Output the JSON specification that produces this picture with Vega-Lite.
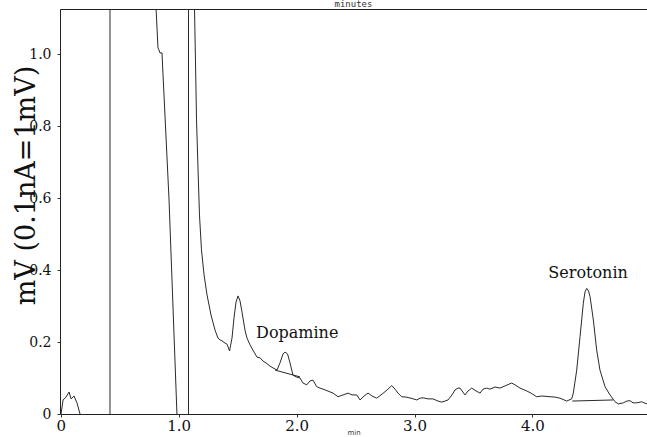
{
"$schema":"https://vega.github.io/schema/vega-lite/v6.json",
"width":587,"height":405,
"autosize":"none",
"padding":{"left":60,"top":9,"right":0,"bottom":23},
"background":"white",
"config":{"view":{"stroke":"#222","strokeWidth":1},"font":"DejaVu Serif"},
"title":{"text":"minutes","font":"DejaVu Sans Mono","fontSize":9,"fontWeight":"normal","color":"#333","offset":0},
"datasets":{
"trace":[
{"seg":"a","t":0.002,"v":0},{"seg":"a","t":0.019,"v":0.039},{"seg":"a","t":0.044,"v":0.047},{"seg":"a","t":0.070,"v":0.061},{"seg":"a","t":0.087,"v":0.042},{"seg":"a","t":0.112,"v":0.050},{"seg":"a","t":0.137,"v":0.031},{"seg":"a","t":0.163,"v":0},
{"seg":"b","t":0.417,"v":0},{"seg":"b","t":0.417,"v":1.125},
{"seg":"c","t":0.808,"v":1.125},{"seg":"c","t":0.824,"v":1.017},{"seg":"c","t":0.833,"v":1.011},{"seg":"c","t":0.841,"v":1.003},{"seg":"c","t":0.858,"v":1.003},{"seg":"c","t":0.918,"v":0.594},{"seg":"c","t":0.985,"v":0},
{"seg":"d","t":1.083,"v":0},{"seg":"d","t":1.083,"v":1.125},
{"seg":"e","t":1.134,"v":1.125},{"seg":"e","t":1.142,"v":0.983},{"seg":"e","t":1.151,"v":0.817},{"seg":"e","t":1.164,"v":0.678},{"seg":"e","t":1.176,"v":0.553},{"seg":"e","t":1.193,"v":0.456},{"seg":"e","t":1.215,"v":0.386},{"seg":"e","t":1.240,"v":0.331},{"seg":"e","t":1.274,"v":0.275},{"seg":"e","t":1.308,"v":0.233},{"seg":"e","t":1.333,"v":0.211},{"seg":"e","t":1.350,"v":0.206},{"seg":"e","t":1.367,"v":0.203},{"seg":"e","t":1.393,"v":0.197},{"seg":"e","t":1.410,"v":0.194},{"seg":"e","t":1.431,"v":0.175},{"seg":"e","t":1.452,"v":0.211},{"seg":"e","t":1.469,"v":0.267},{"seg":"e","t":1.486,"v":0.311},{"seg":"e","t":1.503,"v":0.328},{"seg":"e","t":1.520,"v":0.314},{"seg":"e","t":1.537,"v":0.283},{"seg":"e","t":1.562,"v":0.233},{"seg":"e","t":1.579,"v":0.211},{"seg":"e","t":1.605,"v":0.192},{"seg":"e","t":1.639,"v":0.172},{"seg":"e","t":1.664,"v":0.158},{"seg":"e","t":1.690,"v":0.156},{"seg":"e","t":1.715,"v":0.147},{"seg":"e","t":1.740,"v":0.142},{"seg":"e","t":1.774,"v":0.133},{"seg":"e","t":1.800,"v":0.128},{"seg":"e","t":1.834,"v":0.122},{"seg":"e","t":1.859,"v":0.142},{"seg":"e","t":1.885,"v":0.167},{"seg":"e","t":1.902,"v":0.172},{"seg":"e","t":1.923,"v":0.167},{"seg":"e","t":1.944,"v":0.142},{"seg":"e","t":1.969,"v":0.108},{"seg":"e","t":1.995,"v":0.103},{"seg":"e","t":2.029,"v":0.100},{"seg":"e","t":2.054,"v":0.086},{"seg":"e","t":2.086,"v":0.081},{"seg":"e","t":2.114,"v":0.092},{"seg":"e","t":2.139,"v":0.094},{"seg":"e","t":2.170,"v":0.076},{"seg":"e","t":2.198,"v":0.072},{"seg":"e","t":2.241,"v":0.067},{"seg":"e","t":2.309,"v":0.058},{"seg":"e","t":2.351,"v":0.048},{"seg":"e","t":2.394,"v":0.053},{"seg":"e","t":2.436,"v":0.058},{"seg":"e","t":2.470,"v":0.053},{"seg":"e","t":2.510,"v":0.053},{"seg":"e","t":2.538,"v":0.039},{"seg":"e","t":2.572,"v":0.050},{"seg":"e","t":2.606,"v":0.058},{"seg":"e","t":2.640,"v":0.050},{"seg":"e","t":2.679,"v":0.044},{"seg":"e","t":2.716,"v":0.053},{"seg":"e","t":2.750,"v":0.062},{"seg":"e","t":2.775,"v":0.069},{"seg":"e","t":2.807,"v":0.079},{"seg":"e","t":2.835,"v":0.069},{"seg":"e","t":2.860,"v":0.058},{"seg":"e","t":2.891,"v":0.048},{"seg":"e","t":2.928,"v":0.047},{"seg":"e","t":2.970,"v":0.044},{"seg":"e","t":3.019,"v":0.039},{"seg":"e","t":3.047,"v":0.044},{"seg":"e","t":3.072,"v":0.045},{"seg":"e","t":3.115,"v":0.042},{"seg":"e","t":3.157,"v":0.042},{"seg":"e","t":3.199,"v":0.036},{"seg":"e","t":3.231,"v":0.033},{"seg":"e","t":3.259,"v":0.036},{"seg":"e","t":3.284,"v":0.039},{"seg":"e","t":3.318,"v":0.053},{"seg":"e","t":3.344,"v":0.067},{"seg":"e","t":3.369,"v":0.072},{"seg":"e","t":3.386,"v":0.072},{"seg":"e","t":3.428,"v":0.053},{"seg":"e","t":3.454,"v":0.064},{"seg":"e","t":3.485,"v":0.072},{"seg":"e","t":3.522,"v":0.064},{"seg":"e","t":3.556,"v":0.058},{"seg":"e","t":3.581,"v":0.069},{"seg":"e","t":3.612,"v":0.072},{"seg":"e","t":3.640,"v":0.069},{"seg":"e","t":3.683,"v":0.075},{"seg":"e","t":3.725,"v":0.072},{"seg":"e","t":3.768,"v":0.078},{"seg":"e","t":3.802,"v":0.083},{"seg":"e","t":3.824,"v":0.086},{"seg":"e","t":3.852,"v":0.081},{"seg":"e","t":3.895,"v":0.072},{"seg":"e","t":3.952,"v":0.064},{"seg":"e","t":3.988,"v":0.058},{"seg":"e","t":4.036,"v":0.048},{"seg":"e","t":4.081,"v":0.050},{"seg":"e","t":4.149,"v":0.048},{"seg":"e","t":4.192,"v":0.047},{"seg":"e","t":4.234,"v":0.044},{"seg":"e","t":4.291,"v":0.036},{"seg":"e","t":4.333,"v":0.042},{"seg":"e","t":4.347,"v":0.058},{"seg":"e","t":4.376,"v":0.122},{"seg":"e","t":4.404,"v":0.215},{"seg":"e","t":4.432,"v":0.308},{"seg":"e","t":4.446,"v":0.339},{"seg":"e","t":4.461,"v":0.349},{"seg":"e","t":4.476,"v":0.342},{"seg":"e","t":4.489,"v":0.326},{"seg":"e","t":4.517,"v":0.261},{"seg":"e","t":4.545,"v":0.178},{"seg":"e","t":4.573,"v":0.122},{"seg":"e","t":4.616,"v":0.076},{"seg":"e","t":4.658,"v":0.053},{"seg":"e","t":4.701,"v":0.034},{"seg":"e","t":4.729,"v":0.028},{"seg":"e","t":4.771,"v":0.031},{"seg":"e","t":4.802,"v":0.036},{"seg":"e","t":4.828,"v":0.037},{"seg":"e","t":4.853,"v":0.031},{"seg":"e","t":4.885,"v":0.031},{"seg":"e","t":4.927,"v":0.034},{"seg":"e","t":4.947,"v":0.031},{"seg":"e","t":4.972,"v":0.028},
{"seg":"f","t":1.817,"v":0.122},{"seg":"f","t":2.029,"v":0.103},
{"seg":"g","t":4.338,"v":0.036},{"seg":"g","t":4.686,"v":0.039}
],
"labels":[{"name":"Dopamine","t":2.005,"v":0.211},{"name":"Serotonin","t":4.472,"v":0.378}]
},
"layer":[
{"data":{"name":"trace"},
 "mark":{"type":"line","color":"#2a2a2a","strokeWidth":1,"clip":true},
 "encoding":{
  "x":{"field":"t","type":"quantitative","scale":{"domain":[-0.007,4.972],"nice":false,"zero":false},
   "axis":{"values":[0,1,2,3,4],"labelExpr":"datum.value==0?'0':format(datum.value,'.1f')","labelFlush":false,"labelFont":"DejaVu Serif","labelFontSize":15,"labelColor":"#111","tickSize":3,"tickColor":"#333","labelPadding":1,"domain":false,"grid":false,"title":"min","titleFont":"DejaVu Sans","titleFontSize":7,"titleFontWeight":"normal","titleBaseline":"alphabetic","titleY":20,"titleColor":"#333"}},
  "y":{"field":"v","type":"quantitative","scale":{"domain":[0,1.125],"nice":false,"zero":false},
   "axis":{"values":[0,0.2,0.4,0.6,0.8,1.0],"labelExpr":"datum.value==0?'0':format(datum.value,'.1f')","labelFlush":false,"labelFont":"DejaVu Serif","labelFontSize":14,"labelColor":"#111","tickSize":3,"tickColor":"#333","labelPadding":6,"domain":false,"grid":false,"title":"mV (0.1nA=1mV)","titleFont":"DejaVu Serif","titleFontSize":27,"titleFontWeight":"normal","titleColor":"#111","titleX":-26,"titleY":176,"titleBaseline":"alphabetic","titleAngle":-90,"titleAlign":"center"}},
  "detail":{"field":"seg"},
  "order":{"value":null}
 }},
{"data":{"name":"labels"},
 "mark":{"type":"text","font":"DejaVu Serif","fontSize":16,"baseline":"alphabetic","align":"center","color":"#111"},
 "encoding":{
  "x":{"field":"t","type":"quantitative"},
  "y":{"field":"v","type":"quantitative"},
  "text":{"field":"name"}
 }}
]
}
